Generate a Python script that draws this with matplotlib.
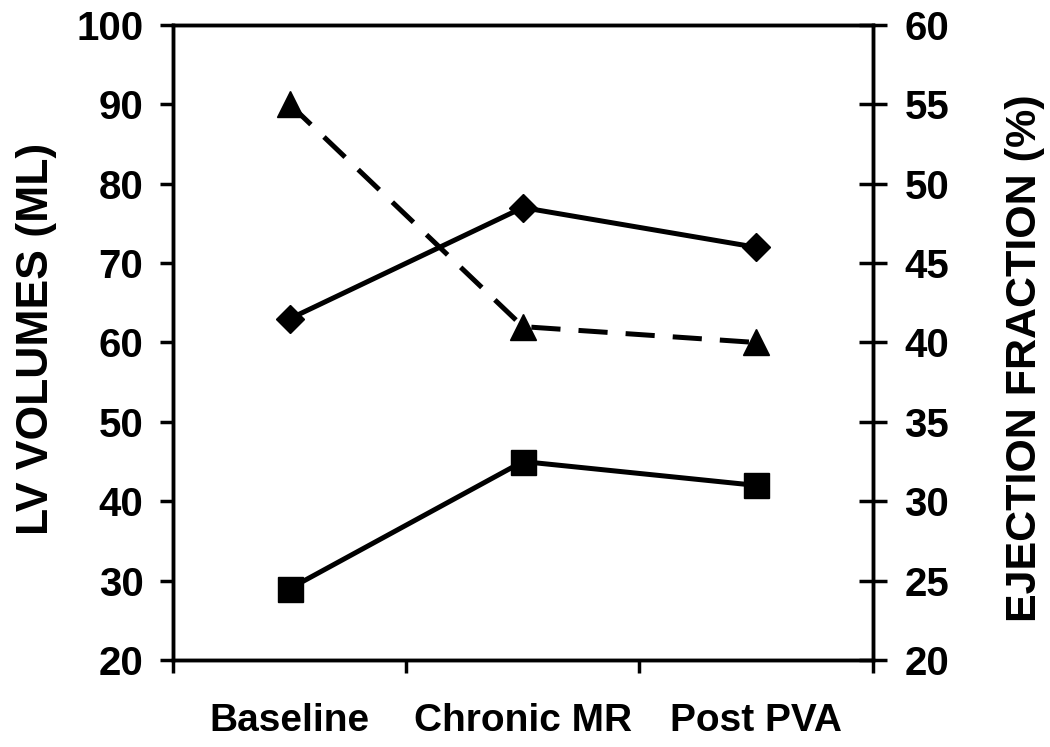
import matplotlib
matplotlib.use("Agg")
import matplotlib.pyplot as plt

categories = ["Baseline", "Chronic MR", "Post PVA"]
edv = [63, 77, 72]       # diamonds, left axis
esv = [29, 45, 42]       # squares, left axis
ef = [55, 41, 40]        # triangles, right axis
left_ticks = [20, 30, 40, 50, 60, 70, 80, 90, 100]
right_ticks = [20, 25, 30, 35, 40, 45, 50, 55, 60]

plt.rcParams['font.family'] = ['Liberation Sans', 'DejaVu Sans']
plt.rcParams['font.weight'] = 'bold'
plt.rcParams['lines.scale_dashes'] = False

fig = plt.figure(figsize=(10.5, 7.47), dpi=100)
ax = fig.add_axes([0.165, 0.1165, 0.666, 0.85])
ax2 = ax.twinx()

x = [i + 0.5 for i in range(len(categories))]
lw = 3.6
ax.plot(x, edv, color='black', lw=lw, marker='D', markersize=14, clip_on=False, zorder=3)
ax.plot(x, esv, color='black', lw=lw, marker='s', markersize=18, clip_on=False, zorder=3)
ax2.plot(x, ef, color='black', lw=lw, marker='^', markersize=19, dashes=(21, 13), clip_on=False, zorder=3)

ax.set_xlim(0, 3)
ax.set_ylim(20, 100)
ax2.set_ylim(20, 60)
ax.set_yticks(left_ticks)
ax2.set_yticks(right_ticks)
ax.set_xticks([0, 1, 2, 3])
ax.set_xticklabels([])
ax.set_xticks(x, minor=True)
ax.set_xticklabels(categories, minor=True)
ax.tick_params(axis='x', which='minor', length=0, pad=31, labelsize=28)
ax.tick_params(axis='x', which='major', direction='out', length=9, width=2.5)
ax.tick_params(axis='y', direction='out', length=9.5, width=2.5, labelsize=29, pad=12)
ax2.tick_params(axis='y', direction='inout', length=20, width=2.5, labelsize=29, pad=13)

for a in (ax, ax2):
    for s in a.spines.values():
        s.set_linewidth(2.5)

ax.set_ylabel("LV VOLUMES (ML)", fontsize=32, fontweight='bold', labelpad=14)
ax2.set_ylabel("EJECTION FRACTION (%)", fontsize=31, fontweight='bold', labelpad=40)
ax.yaxis.label.set_y(0.505)
ax2.yaxis.label.set_y(0.476)

fig.savefig("out.png", dpi=100)
